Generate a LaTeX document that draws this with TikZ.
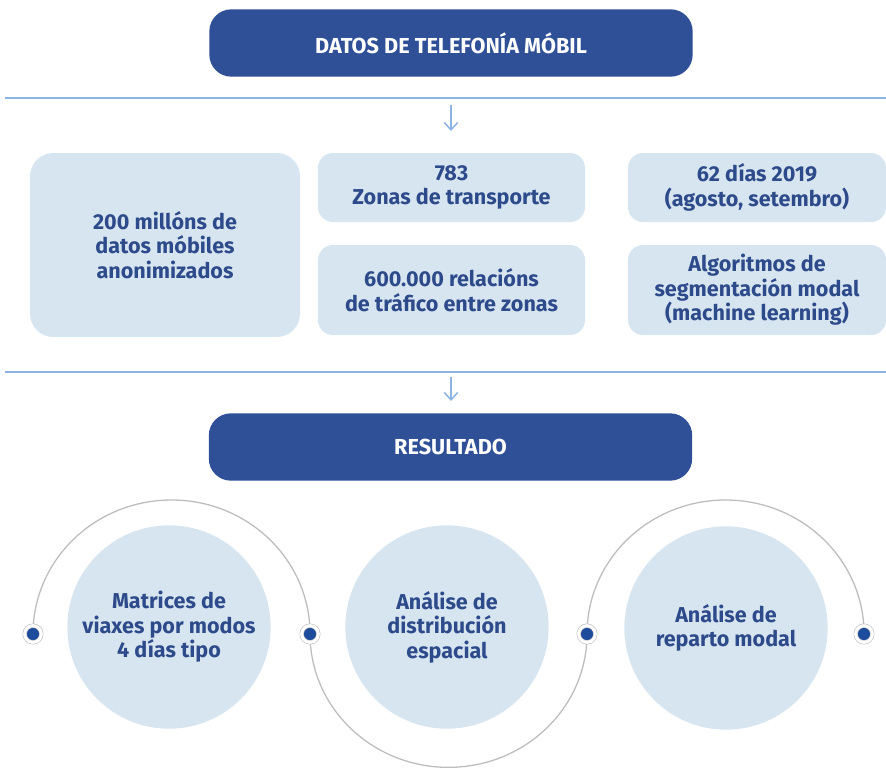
\documentclass[tikz,border=0pt]{standalone}
\usepackage{fontspec}
\setmainfont{Fira Sans}
\usetikzlibrary{arrows.meta,positioning}
\definecolor{boxblue}{HTML}{2F4F97}
\definecolor{textblue}{HTML}{2D4A8A}
\definecolor{paleblue}{HTML}{D7E5F1}
\definecolor{lineblue}{HTML}{8DB3E2}
\definecolor{arcgray}{HTML}{BDBDBD}
\definecolor{dotblue}{HTML}{1E4C9C}

\begin{document}
\begin{tikzpicture}
  [x=0.03cm,y=-0.03cm,
  headbox/.style={rectangle,rounded corners=0.66cm,fill=boxblue,text=white,font=\fontsize{18.5}{21}\selectfont\bfseries,minimum width=14.5cm,minimum height=2.02cm},
  factbox/.style={rectangle,rounded corners=0.45cm,fill=paleblue,text=textblue,align=center,font=\fontsize{18.4}{21}\selectfont\bfseries,inner sep=0pt},
  bubble/.style={circle,fill=paleblue,text=textblue,align=center,font=\fontsize{18.4}{21}\selectfont\bfseries,minimum size=6.1cm,inner sep=0pt},
  dot/.style={circle,fill=dotblue,draw=arcgray,double=white,double distance=2.6pt,line width=0.5pt,inner sep=0pt,minimum size=0.5cm},
  sepline/.style={lineblue,line width=1.3pt},
  arr/.style={-{Straight Barb[length=0.22cm,width=0.4cm]},lineblue,line width=1.3pt},
  arcline/.style={arcgray,line width=1.1pt}]

  \useasboundingbox (0,0) rectangle (886,770);

  \node[headbox] (datos) at (451,43) {DATOS DE TELEFONÍA MÓBIL};

  \coordinate (s1l) at (5,98);
  \coordinate (s1r) at (886,98);
  \draw[sepline] (s1l) -- (s1r);
  \coordinate (a1s) at (451,105);
  \coordinate (a1e) at (451,131);
  \draw[arr] (a1s) -- (a1e);

  \node[factbox,minimum width=8.1cm,minimum height=5.52cm,rounded corners=0.7cm] (millons) at (165,245) {200 millóns de\\datos móbiles\\anonimizados};
  \node[factbox,minimum width=8.01cm,minimum height=2.07cm] (zonas) at (451.5,187.5) {783\\Zonas de transporte};
  \node[factbox,minimum width=8.01cm,minimum height=2.7cm] (relacions) at (451.5,290) {600.000 relacións\\de tráfico entre zonas};
  \node[factbox,minimum width=7.74cm,minimum height=2.07cm] (dias) at (757,187.5) {62 días 2019\\(agosto, setembro)};
  \node[factbox,minimum width=7.74cm,minimum height=2.7cm] (algoritmos) at (757,290) {Algoritmos de\\segmentación modal\\(machine learning)};

  \coordinate (s2l) at (5,372);
  \coordinate (s2r) at (886,372);
  \draw[sepline] (s2l) -- (s2r);
  \coordinate (a2s) at (451,377);
  \coordinate (a2e) at (451,401);
  \draw[arr] (a2s) -- (a2e);

  \node[headbox] (resultado) at (450.5,447) {RESULTADO};

  \node[bubble] (matrices) at (169,627) {Matrices de\\viaxes por modos\\4 días tipo};
  \node[bubble] (distribucion) at (447,627) {Análise de\\distribución\\espacial};
  \node[bubble] (reparto) at (726,628) {Análise de\\reparto modal};

  \coordinate (p1) at (33,634);
  \coordinate (p2) at (310,634);
  \coordinate (p3) at (587,634);
  \coordinate (p4) at (864,634);
  \draw[arcline] (p1) arc[start angle=180,end angle=0,x radius=4.155cm,y radius=4.02cm]
    arc[start angle=180,end angle=360,x radius=4.155cm,y radius=4cm]
    arc[start angle=180,end angle=0,x radius=4.155cm,y radius=4.02cm];
  \node[dot] (d1) at (p1) {};
  \node[dot] (d2) at (p2) {};
  \node[dot] (d3) at (p3) {};
  \node[dot] (d4) at (p4) {};
\end{tikzpicture}
\end{document}
